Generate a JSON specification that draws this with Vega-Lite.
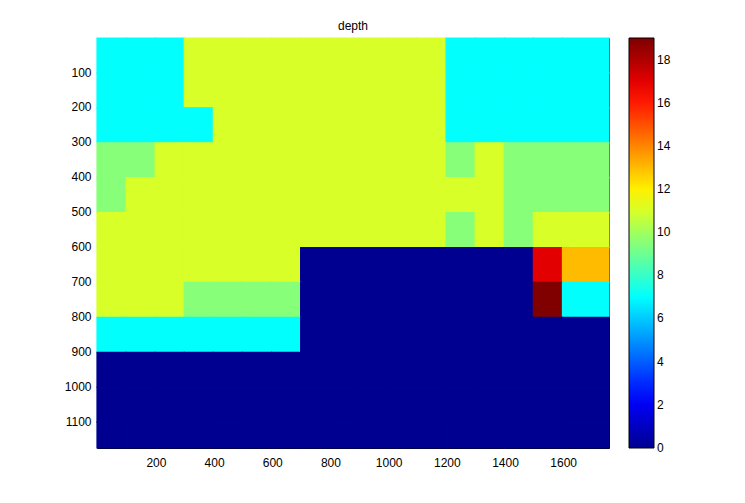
{
"$schema": "https://vega.github.io/schema/vega-lite/v6.json",
"width": 512,
"height": 410,
"autosize": {"type": "none"},
"padding": {"left": 97, "top": 38, "right": 136, "bottom": 55},
"background": "white",
"title": {"text": "depth", "fontSize": 12, "font": "Liberation Sans", "fontWeight": "normal", "color": "black", "anchor": "middle", "frame": "group", "offset": -5, "baseline": "alphabetic"},
"data": {"values": [
{"x0":-2.5,"x1":97.5,"y0":2.5,"y1":102.5,"d":7},{"x0":97.5,"x1":197.5,"y0":2.5,"y1":102.5,"d":7},{"x0":197.5,"x1":297.5,"y0":2.5,"y1":102.5,"d":7},{"x0":297.5,"x1":397.5,"y0":2.5,"y1":102.5,"d":11},{"x0":397.5,"x1":497.5,"y0":2.5,"y1":102.5,"d":11},{"x0":497.5,"x1":597.5,"y0":2.5,"y1":102.5,"d":11},{"x0":597.5,"x1":697.5,"y0":2.5,"y1":102.5,"d":11},{"x0":697.5,"x1":797.5,"y0":2.5,"y1":102.5,"d":11},{"x0":797.5,"x1":897.5,"y0":2.5,"y1":102.5,"d":11},{"x0":897.5,"x1":997.5,"y0":2.5,"y1":102.5,"d":11},{"x0":997.5,"x1":1097.5,"y0":2.5,"y1":102.5,"d":11},{"x0":1097.5,"x1":1197.5,"y0":2.5,"y1":102.5,"d":11},{"x0":1197.5,"x1":1297.5,"y0":2.5,"y1":102.5,"d":7},{"x0":1297.5,"x1":1397.5,"y0":2.5,"y1":102.5,"d":7},{"x0":1397.5,"x1":1497.5,"y0":2.5,"y1":102.5,"d":7},{"x0":1497.5,"x1":1597.5,"y0":2.5,"y1":102.5,"d":7},{"x0":1597.5,"x1":1757.5,"y0":2.5,"y1":102.5,"d":7},
{"x0":-2.5,"x1":97.5,"y0":102.5,"y1":202.5,"d":7},{"x0":97.5,"x1":197.5,"y0":102.5,"y1":202.5,"d":7},{"x0":197.5,"x1":297.5,"y0":102.5,"y1":202.5,"d":7},{"x0":297.5,"x1":397.5,"y0":102.5,"y1":202.5,"d":11},{"x0":397.5,"x1":497.5,"y0":102.5,"y1":202.5,"d":11},{"x0":497.5,"x1":597.5,"y0":102.5,"y1":202.5,"d":11},{"x0":597.5,"x1":697.5,"y0":102.5,"y1":202.5,"d":11},{"x0":697.5,"x1":797.5,"y0":102.5,"y1":202.5,"d":11},{"x0":797.5,"x1":897.5,"y0":102.5,"y1":202.5,"d":11},{"x0":897.5,"x1":997.5,"y0":102.5,"y1":202.5,"d":11},{"x0":997.5,"x1":1097.5,"y0":102.5,"y1":202.5,"d":11},{"x0":1097.5,"x1":1197.5,"y0":102.5,"y1":202.5,"d":11},{"x0":1197.5,"x1":1297.5,"y0":102.5,"y1":202.5,"d":7},{"x0":1297.5,"x1":1397.5,"y0":102.5,"y1":202.5,"d":7},{"x0":1397.5,"x1":1497.5,"y0":102.5,"y1":202.5,"d":7},{"x0":1497.5,"x1":1597.5,"y0":102.5,"y1":202.5,"d":7},{"x0":1597.5,"x1":1757.5,"y0":102.5,"y1":202.5,"d":7},
{"x0":-2.5,"x1":97.5,"y0":202.5,"y1":302.5,"d":7},{"x0":97.5,"x1":197.5,"y0":202.5,"y1":302.5,"d":7},{"x0":197.5,"x1":297.5,"y0":202.5,"y1":302.5,"d":7},{"x0":297.5,"x1":397.5,"y0":202.5,"y1":302.5,"d":7},{"x0":397.5,"x1":497.5,"y0":202.5,"y1":302.5,"d":11},{"x0":497.5,"x1":597.5,"y0":202.5,"y1":302.5,"d":11},{"x0":597.5,"x1":697.5,"y0":202.5,"y1":302.5,"d":11},{"x0":697.5,"x1":797.5,"y0":202.5,"y1":302.5,"d":11},{"x0":797.5,"x1":897.5,"y0":202.5,"y1":302.5,"d":11},{"x0":897.5,"x1":997.5,"y0":202.5,"y1":302.5,"d":11},{"x0":997.5,"x1":1097.5,"y0":202.5,"y1":302.5,"d":11},{"x0":1097.5,"x1":1197.5,"y0":202.5,"y1":302.5,"d":11},{"x0":1197.5,"x1":1297.5,"y0":202.5,"y1":302.5,"d":7},{"x0":1297.5,"x1":1397.5,"y0":202.5,"y1":302.5,"d":7},{"x0":1397.5,"x1":1497.5,"y0":202.5,"y1":302.5,"d":7},{"x0":1497.5,"x1":1597.5,"y0":202.5,"y1":302.5,"d":7},{"x0":1597.5,"x1":1757.5,"y0":202.5,"y1":302.5,"d":7},
{"x0":-2.5,"x1":97.5,"y0":302.5,"y1":402.5,"d":9.5},{"x0":97.5,"x1":197.5,"y0":302.5,"y1":402.5,"d":9.5},{"x0":197.5,"x1":297.5,"y0":302.5,"y1":402.5,"d":11},{"x0":297.5,"x1":397.5,"y0":302.5,"y1":402.5,"d":11},{"x0":397.5,"x1":497.5,"y0":302.5,"y1":402.5,"d":11},{"x0":497.5,"x1":597.5,"y0":302.5,"y1":402.5,"d":11},{"x0":597.5,"x1":697.5,"y0":302.5,"y1":402.5,"d":11},{"x0":697.5,"x1":797.5,"y0":302.5,"y1":402.5,"d":11},{"x0":797.5,"x1":897.5,"y0":302.5,"y1":402.5,"d":11},{"x0":897.5,"x1":997.5,"y0":302.5,"y1":402.5,"d":11},{"x0":997.5,"x1":1097.5,"y0":302.5,"y1":402.5,"d":11},{"x0":1097.5,"x1":1197.5,"y0":302.5,"y1":402.5,"d":11},{"x0":1197.5,"x1":1297.5,"y0":302.5,"y1":402.5,"d":9.5},{"x0":1297.5,"x1":1397.5,"y0":302.5,"y1":402.5,"d":11},{"x0":1397.5,"x1":1497.5,"y0":302.5,"y1":402.5,"d":9.5},{"x0":1497.5,"x1":1597.5,"y0":302.5,"y1":402.5,"d":9.5},{"x0":1597.5,"x1":1757.5,"y0":302.5,"y1":402.5,"d":9.5},
{"x0":-2.5,"x1":97.5,"y0":402.5,"y1":502.5,"d":9.5},{"x0":97.5,"x1":197.5,"y0":402.5,"y1":502.5,"d":11},{"x0":197.5,"x1":297.5,"y0":402.5,"y1":502.5,"d":11},{"x0":297.5,"x1":397.5,"y0":402.5,"y1":502.5,"d":11},{"x0":397.5,"x1":497.5,"y0":402.5,"y1":502.5,"d":11},{"x0":497.5,"x1":597.5,"y0":402.5,"y1":502.5,"d":11},{"x0":597.5,"x1":697.5,"y0":402.5,"y1":502.5,"d":11},{"x0":697.5,"x1":797.5,"y0":402.5,"y1":502.5,"d":11},{"x0":797.5,"x1":897.5,"y0":402.5,"y1":502.5,"d":11},{"x0":897.5,"x1":997.5,"y0":402.5,"y1":502.5,"d":11},{"x0":997.5,"x1":1097.5,"y0":402.5,"y1":502.5,"d":11},{"x0":1097.5,"x1":1197.5,"y0":402.5,"y1":502.5,"d":11},{"x0":1197.5,"x1":1297.5,"y0":402.5,"y1":502.5,"d":11},{"x0":1297.5,"x1":1397.5,"y0":402.5,"y1":502.5,"d":11},{"x0":1397.5,"x1":1497.5,"y0":402.5,"y1":502.5,"d":9.5},{"x0":1497.5,"x1":1597.5,"y0":402.5,"y1":502.5,"d":9.5},{"x0":1597.5,"x1":1757.5,"y0":402.5,"y1":502.5,"d":9.5},
{"x0":-2.5,"x1":97.5,"y0":502.5,"y1":602.5,"d":11},{"x0":97.5,"x1":197.5,"y0":502.5,"y1":602.5,"d":11},{"x0":197.5,"x1":297.5,"y0":502.5,"y1":602.5,"d":11},{"x0":297.5,"x1":397.5,"y0":502.5,"y1":602.5,"d":11},{"x0":397.5,"x1":497.5,"y0":502.5,"y1":602.5,"d":11},{"x0":497.5,"x1":597.5,"y0":502.5,"y1":602.5,"d":11},{"x0":597.5,"x1":697.5,"y0":502.5,"y1":602.5,"d":11},{"x0":697.5,"x1":797.5,"y0":502.5,"y1":602.5,"d":11},{"x0":797.5,"x1":897.5,"y0":502.5,"y1":602.5,"d":11},{"x0":897.5,"x1":997.5,"y0":502.5,"y1":602.5,"d":11},{"x0":997.5,"x1":1097.5,"y0":502.5,"y1":602.5,"d":11},{"x0":1097.5,"x1":1197.5,"y0":502.5,"y1":602.5,"d":11},{"x0":1197.5,"x1":1297.5,"y0":502.5,"y1":602.5,"d":9.5},{"x0":1297.5,"x1":1397.5,"y0":502.5,"y1":602.5,"d":11},{"x0":1397.5,"x1":1497.5,"y0":502.5,"y1":602.5,"d":9.5},{"x0":1497.5,"x1":1597.5,"y0":502.5,"y1":602.5,"d":11},{"x0":1597.5,"x1":1757.5,"y0":502.5,"y1":602.5,"d":11},
{"x0":-2.5,"x1":97.5,"y0":602.5,"y1":702.5,"d":11},{"x0":97.5,"x1":197.5,"y0":602.5,"y1":702.5,"d":11},{"x0":197.5,"x1":297.5,"y0":602.5,"y1":702.5,"d":11},{"x0":297.5,"x1":397.5,"y0":602.5,"y1":702.5,"d":11},{"x0":397.5,"x1":497.5,"y0":602.5,"y1":702.5,"d":11},{"x0":497.5,"x1":597.5,"y0":602.5,"y1":702.5,"d":11},{"x0":597.5,"x1":697.5,"y0":602.5,"y1":702.5,"d":11},{"x0":697.5,"x1":797.5,"y0":602.5,"y1":702.5,"d":0},{"x0":797.5,"x1":897.5,"y0":602.5,"y1":702.5,"d":0},{"x0":897.5,"x1":997.5,"y0":602.5,"y1":702.5,"d":0},{"x0":997.5,"x1":1097.5,"y0":602.5,"y1":702.5,"d":0},{"x0":1097.5,"x1":1197.5,"y0":602.5,"y1":702.5,"d":0},{"x0":1197.5,"x1":1297.5,"y0":602.5,"y1":702.5,"d":0},{"x0":1297.5,"x1":1397.5,"y0":602.5,"y1":702.5,"d":0},{"x0":1397.5,"x1":1497.5,"y0":602.5,"y1":702.5,"d":0},{"x0":1497.5,"x1":1597.5,"y0":602.5,"y1":702.5,"d":17},{"x0":1597.5,"x1":1757.5,"y0":602.5,"y1":702.5,"d":13},
{"x0":-2.5,"x1":97.5,"y0":702.5,"y1":802.5,"d":11},{"x0":97.5,"x1":197.5,"y0":702.5,"y1":802.5,"d":11},{"x0":197.5,"x1":297.5,"y0":702.5,"y1":802.5,"d":11},{"x0":297.5,"x1":397.5,"y0":702.5,"y1":802.5,"d":9.5},{"x0":397.5,"x1":497.5,"y0":702.5,"y1":802.5,"d":9.5},{"x0":497.5,"x1":597.5,"y0":702.5,"y1":802.5,"d":9.5},{"x0":597.5,"x1":697.5,"y0":702.5,"y1":802.5,"d":9.5},{"x0":697.5,"x1":797.5,"y0":702.5,"y1":802.5,"d":0},{"x0":797.5,"x1":897.5,"y0":702.5,"y1":802.5,"d":0},{"x0":897.5,"x1":997.5,"y0":702.5,"y1":802.5,"d":0},{"x0":997.5,"x1":1097.5,"y0":702.5,"y1":802.5,"d":0},{"x0":1097.5,"x1":1197.5,"y0":702.5,"y1":802.5,"d":0},{"x0":1197.5,"x1":1297.5,"y0":702.5,"y1":802.5,"d":0},{"x0":1297.5,"x1":1397.5,"y0":702.5,"y1":802.5,"d":0},{"x0":1397.5,"x1":1497.5,"y0":702.5,"y1":802.5,"d":0},{"x0":1497.5,"x1":1597.5,"y0":702.5,"y1":802.5,"d":19},{"x0":1597.5,"x1":1757.5,"y0":702.5,"y1":802.5,"d":7},
{"x0":-2.5,"x1":97.5,"y0":802.5,"y1":902.5,"d":7},{"x0":97.5,"x1":197.5,"y0":802.5,"y1":902.5,"d":7},{"x0":197.5,"x1":297.5,"y0":802.5,"y1":902.5,"d":7},{"x0":297.5,"x1":397.5,"y0":802.5,"y1":902.5,"d":7},{"x0":397.5,"x1":497.5,"y0":802.5,"y1":902.5,"d":7},{"x0":497.5,"x1":597.5,"y0":802.5,"y1":902.5,"d":7},{"x0":597.5,"x1":697.5,"y0":802.5,"y1":902.5,"d":7},{"x0":697.5,"x1":797.5,"y0":802.5,"y1":902.5,"d":0},{"x0":797.5,"x1":897.5,"y0":802.5,"y1":902.5,"d":0},{"x0":897.5,"x1":997.5,"y0":802.5,"y1":902.5,"d":0},{"x0":997.5,"x1":1097.5,"y0":802.5,"y1":902.5,"d":0},{"x0":1097.5,"x1":1197.5,"y0":802.5,"y1":902.5,"d":0},{"x0":1197.5,"x1":1297.5,"y0":802.5,"y1":902.5,"d":0},{"x0":1297.5,"x1":1397.5,"y0":802.5,"y1":902.5,"d":0},{"x0":1397.5,"x1":1497.5,"y0":802.5,"y1":902.5,"d":0},{"x0":1497.5,"x1":1597.5,"y0":802.5,"y1":902.5,"d":0},{"x0":1597.5,"x1":1757.5,"y0":802.5,"y1":902.5,"d":0},
{"x0":-2.5,"x1":97.5,"y0":902.5,"y1":1002.5,"d":0},{"x0":97.5,"x1":197.5,"y0":902.5,"y1":1002.5,"d":0},{"x0":197.5,"x1":297.5,"y0":902.5,"y1":1002.5,"d":0},{"x0":297.5,"x1":397.5,"y0":902.5,"y1":1002.5,"d":0},{"x0":397.5,"x1":497.5,"y0":902.5,"y1":1002.5,"d":0},{"x0":497.5,"x1":597.5,"y0":902.5,"y1":1002.5,"d":0},{"x0":597.5,"x1":697.5,"y0":902.5,"y1":1002.5,"d":0},{"x0":697.5,"x1":797.5,"y0":902.5,"y1":1002.5,"d":0},{"x0":797.5,"x1":897.5,"y0":902.5,"y1":1002.5,"d":0},{"x0":897.5,"x1":997.5,"y0":902.5,"y1":1002.5,"d":0},{"x0":997.5,"x1":1097.5,"y0":902.5,"y1":1002.5,"d":0},{"x0":1097.5,"x1":1197.5,"y0":902.5,"y1":1002.5,"d":0},{"x0":1197.5,"x1":1297.5,"y0":902.5,"y1":1002.5,"d":0},{"x0":1297.5,"x1":1397.5,"y0":902.5,"y1":1002.5,"d":0},{"x0":1397.5,"x1":1497.5,"y0":902.5,"y1":1002.5,"d":0},{"x0":1497.5,"x1":1597.5,"y0":902.5,"y1":1002.5,"d":0},{"x0":1597.5,"x1":1757.5,"y0":902.5,"y1":1002.5,"d":0},
{"x0":-2.5,"x1":97.5,"y0":1002.5,"y1":1102.5,"d":0},{"x0":97.5,"x1":197.5,"y0":1002.5,"y1":1102.5,"d":0},{"x0":197.5,"x1":297.5,"y0":1002.5,"y1":1102.5,"d":0},{"x0":297.5,"x1":397.5,"y0":1002.5,"y1":1102.5,"d":0},{"x0":397.5,"x1":497.5,"y0":1002.5,"y1":1102.5,"d":0},{"x0":497.5,"x1":597.5,"y0":1002.5,"y1":1102.5,"d":0},{"x0":597.5,"x1":697.5,"y0":1002.5,"y1":1102.5,"d":0},{"x0":697.5,"x1":797.5,"y0":1002.5,"y1":1102.5,"d":0},{"x0":797.5,"x1":897.5,"y0":1002.5,"y1":1102.5,"d":0},{"x0":897.5,"x1":997.5,"y0":1002.5,"y1":1102.5,"d":0},{"x0":997.5,"x1":1097.5,"y0":1002.5,"y1":1102.5,"d":0},{"x0":1097.5,"x1":1197.5,"y0":1002.5,"y1":1102.5,"d":0},{"x0":1197.5,"x1":1297.5,"y0":1002.5,"y1":1102.5,"d":0},{"x0":1297.5,"x1":1397.5,"y0":1002.5,"y1":1102.5,"d":0},{"x0":1397.5,"x1":1497.5,"y0":1002.5,"y1":1102.5,"d":0},{"x0":1497.5,"x1":1597.5,"y0":1002.5,"y1":1102.5,"d":0},{"x0":1597.5,"x1":1757.5,"y0":1002.5,"y1":1102.5,"d":0},
{"x0":-2.5,"x1":97.5,"y0":1102.5,"y1":1176.5,"d":0},{"x0":97.5,"x1":197.5,"y0":1102.5,"y1":1176.5,"d":0},{"x0":197.5,"x1":297.5,"y0":1102.5,"y1":1176.5,"d":0},{"x0":297.5,"x1":397.5,"y0":1102.5,"y1":1176.5,"d":0},{"x0":397.5,"x1":497.5,"y0":1102.5,"y1":1176.5,"d":0},{"x0":497.5,"x1":597.5,"y0":1102.5,"y1":1176.5,"d":0},{"x0":597.5,"x1":697.5,"y0":1102.5,"y1":1176.5,"d":0},{"x0":697.5,"x1":797.5,"y0":1102.5,"y1":1176.5,"d":0},{"x0":797.5,"x1":897.5,"y0":1102.5,"y1":1176.5,"d":0},{"x0":897.5,"x1":997.5,"y0":1102.5,"y1":1176.5,"d":0},{"x0":997.5,"x1":1097.5,"y0":1102.5,"y1":1176.5,"d":0},{"x0":1097.5,"x1":1197.5,"y0":1102.5,"y1":1176.5,"d":0},{"x0":1197.5,"x1":1297.5,"y0":1102.5,"y1":1176.5,"d":0},{"x0":1297.5,"x1":1397.5,"y0":1102.5,"y1":1176.5,"d":0},{"x0":1397.5,"x1":1497.5,"y0":1102.5,"y1":1176.5,"d":0},{"x0":1497.5,"x1":1597.5,"y0":1102.5,"y1":1176.5,"d":0},{"x0":1597.5,"x1":1757.5,"y0":1102.5,"y1":1176.5,"d":0}
]},
"layer": [
{"mark": {"type": "rect", "strokeWidth": 1.2, "stroke": {"expr": "scale('color', datum.d)"}},
 "encoding": {
  "x": {"field": "x0", "type": "quantitative", "scale": {"domain": [-2.5, 1757.5], "nice": false, "zero": false}, "axis": {"orient": "bottom", "values": [200, 400, 600, 800, 1000, 1200, 1400, 1600], "format": "d", "title": null}},
  "x2": {"field": "x1"},
  "y": {"field": "y0", "type": "quantitative", "scale": {"domain": [2.5, 1176.5], "nice": false, "zero": false, "reverse": true}, "axis": {"orient": "left", "values": [100, 200, 300, 400, 500, 600, 700, 800, 900, 1000, 1100], "format": "d", "title": null}},
  "y2": {"field": "y1"},
  "color": {"field": "d", "type": "quantitative",
    "scale": {"type": "linear", "domain": [-0.01, 2.227, 6.977, 11.727, 16.477, 18.852, 19], "range": ["#00008f", "#0000ff", "#00ffff", "#ffff00", "#ff0000", "#800000", "#800000"], "interpolate": "rgb", "clamp": true},
    "legend": {"type": "gradient", "orient": "none", "legendX": 532, "legendY": 0, "direction": "vertical", "gradientLength": 410, "gradientThickness": 25, "values": [0, 2, 4, 6, 8, 10, 12, 14, 16, 18], "title": null, "labelFont": "Liberation Sans", "labelFontSize": 12, "labelColor": "black", "labelOffset": 3, "labelBaseline": "middle", "gradientStrokeColor": "black", "gradientStrokeWidth": 1, "format": "d", "labelOverlap": false}}
 }},
{"mark": {"type": "rect", "opacity": 0},
 "encoding": {
  "x": {"field": "x0", "type": "quantitative", "axis": {"orient": "top", "values": [200, 400, 600, 800, 1000, 1200, 1400, 1600], "labels": false, "title": null}},
  "x2": {"field": "x1"},
  "y": {"field": "y0", "type": "quantitative", "axis": {"orient": "right", "values": [100, 200, 300, 400, 500, 600, 700, 800, 900, 1000, 1100], "labels": false, "title": null}},
  "y2": {"field": "y1"}
 }}
],
"resolve": {"axis": {"x": "independent", "y": "independent"}},
"config": {
  "view": {"stroke": null},
  "axis": {"labelFont": "Liberation Sans", "labelFontSize": 12, "labelColor": "black", "tickColor": "black", "tickSize": -5, "tickWidth": 1, "domainColor": "black", "domainWidth": 1, "grid": false, "zindex": 1},
  "axisBottom": {"labelPadding": 14},
  "axisLeft": {"labelPadding": 11},
  "legend": {"labelFont": "Liberation Sans"}
}
}
